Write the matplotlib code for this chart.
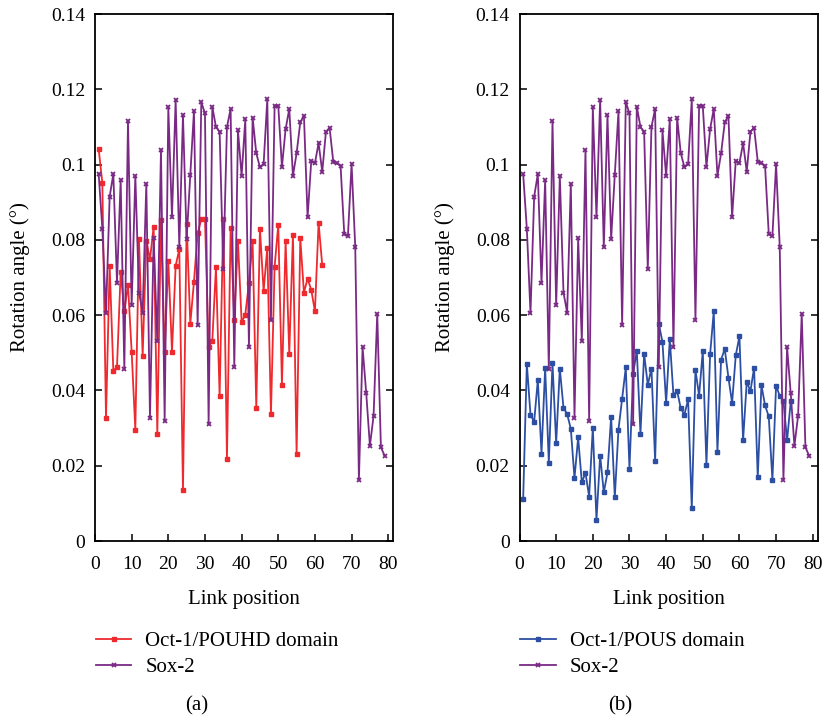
import matplotlib
matplotlib.use("Agg")
import matplotlib.pyplot as plt
from matplotlib.ticker import FuncFormatter, MultipleLocator

plt.rcParams['font.family'] = ['Liberation Serif', 'DejaVu Serif']

# ---- data ----
sox2 = [0.0975, 0.083, 0.0605, 0.0915, 0.0975, 0.0686, 0.0959, 0.0456, 0.1116, 0.0626,
        0.097, 0.066, 0.0607, 0.0949, 0.0328, 0.0804, 0.0531, 0.1039, 0.0319, 0.1152,
        0.086, 0.1172, 0.078, 0.1131, 0.0802, 0.0973, 0.1142, 0.0574, 0.1166, 0.1136,
        0.031, 0.1154, 0.110, 0.1087, 0.0723, 0.110, 0.1148, 0.0461, 0.1091, 0.097,
        0.112, 0.0515, 0.1125, 0.103, 0.0993, 0.1001, 0.1173, 0.0587, 0.1156, 0.1156,
        0.0994, 0.1094, 0.1148, 0.097, 0.103, 0.1112, 0.113, 0.086, 0.101, 0.1004,
        0.1057, 0.0981, 0.1087, 0.1098, 0.1008, 0.1004, 0.0996, 0.0816, 0.081, 0.1002,
        0.0781, 0.0163, 0.0515, 0.0392, 0.0253, 0.0332, 0.0604, 0.0249, 0.0227]
pouhd = [0.1041, 0.0952, 0.0326, 0.0731, 0.0452, 0.0462, 0.0715, 0.0611, 0.0681, 0.0503,
         0.0296, 0.0802, 0.0492, 0.0797, 0.0748, 0.0835, 0.0285, 0.0852, 0.0503, 0.0744,
         0.0503, 0.0731, 0.0775, 0.0135, 0.0843, 0.0577, 0.0689, 0.0817, 0.0855, 0.0855,
         0.0516, 0.0532, 0.0727, 0.0385, 0.0856, 0.0219, 0.0832, 0.0588, 0.0797, 0.0582,
         0.0601, 0.0686, 0.0796, 0.0354, 0.0829, 0.0664, 0.0778, 0.0337, 0.0729, 0.084,
         0.0415, 0.0797, 0.0498, 0.0814, 0.0232, 0.0804, 0.066, 0.0697, 0.0667, 0.061,
         0.0845, 0.0732]
pous = [0.0112, 0.0471, 0.0335, 0.0317, 0.0428, 0.0232, 0.046, 0.0208, 0.0473, 0.026,
        0.0458, 0.0354, 0.0337, 0.0298, 0.0167, 0.0275, 0.0156, 0.0181, 0.0118, 0.0301,
        0.0056, 0.0227, 0.0129, 0.0182, 0.033, 0.0116, 0.0296, 0.0378, 0.0461, 0.0192,
        0.0444, 0.0506, 0.0285, 0.0497, 0.0415, 0.0458, 0.0212, 0.0577, 0.0529, 0.0367,
        0.0536, 0.0387, 0.0399, 0.0352, 0.0336, 0.0376, 0.0087, 0.0454, 0.0386, 0.0505,
        0.0202, 0.0496, 0.061, 0.0237, 0.0482, 0.051, 0.0434, 0.0367, 0.0493, 0.0544,
        0.0267, 0.0423, 0.0398, 0.046, 0.0169, 0.0414, 0.036, 0.0331, 0.0161, 0.0413,
        0.0385, 0.0373, 0.0267, 0.0371]

x_sox = list(range(1, len(sox2) + 1))
x_pouhd = list(range(1, len(pouhd) + 1))
x_pous = list(range(1, len(pous) + 1))

label_a = ["Oct-1/POUHD domain", "Sox-2"]
label_b = ["Oct-1/POUS domain", "Sox-2"]
xlabel = "Link position"
ylabel = "Rotation angle (°)"
panel_names = ["(a)", "(b)"]

RED = '#ee2a2e'
PURPLE = '#7a2a85'
BLUE = '#2c4fa3'

fig = plt.figure(figsize=(8.27, 7.15), dpi=100)
ax_a = fig.add_axes([95/827, 1-541/715, 298/827, 527/715])
ax_b = fig.add_axes([519.5/827, 1-541/715, 298/827, 527/715])

def style(ax):
    ax.set_xlim(0, 81.3)
    ax.set_ylim(0, 0.14)
    ax.xaxis.set_major_locator(MultipleLocator(10))
    ax.yaxis.set_major_locator(MultipleLocator(0.02))
    ax.yaxis.set_major_formatter(FuncFormatter(lambda v, p: '%g' % round(v, 4)))
    ax.tick_params(direction='in', length=5, width=1.1, labelsize=14,
                   right=True, top=False, pad=7)
    ax.tick_params(axis='x', pad=11)
    for s in ax.spines.values():
        s.set_linewidth(1.3)
    ax.set_xlabel(xlabel, fontsize=15, labelpad=12)
    ax.set_ylabel(ylabel, fontsize=15, labelpad=15)

lkw = dict(linewidth=1.3, markersize=3.4)

def add_legend(ax, handles, labels):
    ax.legend(handles, labels, loc='upper left', bbox_to_anchor=(0.003, -0.172),
              frameon=False, fontsize=15, handlelength=1.7, handletextpad=0.67,
              labelspacing=0.3, borderaxespad=0, borderpad=0)

l1, = ax_a.plot(x_pouhd, pouhd, color=RED, marker='s', **lkw)
l2, = ax_a.plot(x_sox, sox2, color=PURPLE, marker='x', markeredgewidth=1.3, **lkw)
style(ax_a)
add_legend(ax_a, [l1, l2], label_a)

l3, = ax_b.plot(x_pous, pous, color=BLUE, marker='s', **lkw)
l4, = ax_b.plot(x_sox, sox2, color=PURPLE, marker='x', markeredgewidth=1.3, **lkw)
style(ax_b)
add_legend(ax_b, [l3, l4], label_b)

fig.text(197/827, 1-706/715, panel_names[0], ha='center', va='center', fontsize=15)
fig.text(620/827, 1-706/715, panel_names[1], ha='center', va='center', fontsize=15)

fig.savefig("out.png", dpi=100)
